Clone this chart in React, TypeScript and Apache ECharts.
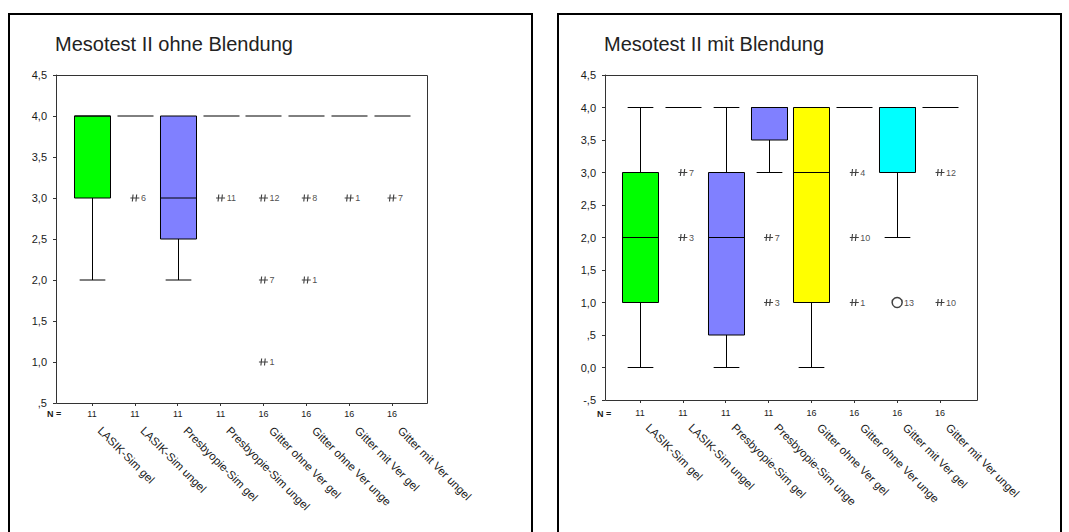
import React, { useEffect, useRef } from "react";
import * as echarts from "echarts";

// Category names along the x axis of each panel
const categoriesOhne = [
  "LASIK-Sim gel",
  "LASIK-Sim ungel",
  "Presbyopie-Sim gel",
  "Presbyopie-Sim ungel",
  "Gitter ohne Ver gel",
  "Gitter ohne Ver unge",
  "Gitter mit Ver gel",
  "Gitter mit Ver ungel",
];
const categoriesMit = [
  "LASIK-Sim gel",
  "LASIK-Sim ungel",
  "Presbyopie-Sim gel",
  "Presbyopie-Sim unge",
  "Gitter ohne Ver gel",
  "Gitter ohne Ver unge",
  "Gitter mit Ver gel",
  "Gitter mit Ver ungel",
];
// Sample sizes (N =) per category
const countsN = ["11", "11", "11", "11", "16", "16", "16", "16"];

// Box statistics per category: [min, Q1, median, Q3, max]
const boxesOhne = [
  [2, 3, 4, 4, 4],
  [4, 4, 4, 4, 4],
  [2, 2.5, 3, 4, 4],
  [4, 4, 4, 4, 4],
  [4, 4, 4, 4, 4],
  [4, 4, 4, 4, 4],
  [4, 4, 4, 4, 4],
  [4, 4, 4, 4, 4],
];
const boxesMit = [
  [0, 1, 2, 3, 4],
  [4, 4, 4, 4, 4],
  [0, 0.5, 2, 3, 4],
  [3, 3.5, 4, 4, 4],
  [0, 1, 3, 4, 4],
  [4, 4, 4, 4, 4],
  [2, 3, 4, 4, 4],
  [4, 4, 4, 4, 4],
];
const fillsOhne = ["#00ff00", "#ffffff", "#8080ff", "#ffffff", "#ffffff", "#ffffff", "#ffffff", "#ffffff"];
const fillsMit = ["#00ff00", "#ffffff", "#8080ff", "#8080ff", "#ffff00", "#ffffff", "#00ffff", "#ffffff"];

// Extreme values: [category index, value, case number]
const extremesOhne = [
  [1, 3, "6"],
  [3, 3, "11"],
  [4, 3, "12"],
  [4, 2, "7"],
  [4, 1, "1"],
  [5, 3, "8"],
  [5, 2, "1"],
  [6, 3, "1"],
  [7, 3, "7"],
];
const extremesMit = [
  [1, 3, "7"],
  [1, 2, "3"],
  [3, 2, "7"],
  [3, 1, "3"],
  [5, 3, "4"],
  [5, 2, "10"],
  [5, 1, "1"],
  [7, 3, "12"],
  [7, 1, "10"],
];
// Outliers (circles): [category index, value, case number]
const outliersOhne: (number | string)[][] = [];
const outliersMit = [[6, 1, "13"]];

const FONT = "'Liberation Sans', Arial, Helvetica, sans-serif";
const INK = "#1a1a1a";
const ASTERISK = "path://M0,4L10,4M3,0L2.2,8M7,0L6.2,8";

const yLabel = (v: number) => {
  if (Math.abs(v) < 1e-9) return "0,0";
  const a = Math.abs(v);
  let s = a.toFixed(1).replace(".", ",");
  if (a < 1) s = s.slice(1);
  return (v < 0 ? "-" : "") + s;
};

type Panel = {
  title: string;
  cats: string[];
  boxes: number[][];
  fills: string[];
  extremes: (number | string)[][];
  outliers: (number | string)[][];
  yMin: number;
  yMax: number;
  frame: { x: number; y: number; w: number; h: number };
  gridLeft: number;
  gridWidth: number;
  titleLeft: number;
  nLeft: number;
  nTop: number;
  nMargin: number;
};

const panels: Panel[] = [
  {
    title: "Mesotest II ohne Blendung",
    cats: categoriesOhne,
    boxes: boxesOhne,
    fills: fillsOhne,
    extremes: extremesOhne,
    outliers: outliersOhne,
    yMin: 0.5,
    yMax: 4.5,
    frame: { x: 56, y: 75, w: 371, h: 328 },
    gridLeft: 70.57,
    gridWidth: 342.86,
    titleLeft: 55,
    nLeft: 47,
    nTop: 409,
    nMargin: 6,
  },
  {
    title: "Mesotest II mit Blendung",
    cats: categoriesMit,
    boxes: boxesMit,
    fills: fillsMit,
    extremes: extremesMit,
    outliers: outliersMit,
    yMin: -0.5,
    yMax: 4.5,
    frame: { x: 605, y: 75, w: 372, h: 325 },
    gridLeft: 618.57,
    gridWidth: 342.86,
    titleLeft: 604,
    nLeft: 597,
    nTop: 409,
    nMargin: 8,
  },
];

function buildOption() {
  const grid: any[] = [];
  const xAxis: any[] = [];
  const yAxis: any[] = [];
  const series: any[] = [];
  const title: any[] = [];
  const graphic: any[] = [];

  panels.forEach((p, i) => {
    grid.push({
      left: p.gridLeft,
      top: p.frame.y,
      width: p.gridWidth,
      height: p.frame.h,
      containLabel: false,
      outerBoundsMode: "none",
    });

    // Category names, rotated below the N row
    xAxis.push({
      gridIndex: i,
      type: "category",
      position: "bottom",
      data: p.cats,
      axisLine: { show: false },
      axisTick: { show: false },
      splitLine: { show: false },
      axisLabel: {
        interval: 0,
        rotate: -45,
        margin: 18,
        padding: [0, 0, 0, 11],
        fontSize: 11.5,
        fontFamily: FONT,
        color: INK,
      },
    });
    // N = row with the sample sizes
    xAxis.push({
      gridIndex: i,
      type: "category",
      position: "bottom",
      data: p.cats,
      axisLine: { show: false },
      axisTick: {
        show: true,
        alignWithLabel: true,
        length: 3,
        lineStyle: { color: "#333", width: 1 },
      },
      splitLine: { show: false },
      axisLabel: {
        interval: 0,
        margin: p.nMargin,
        fontSize: 9,
        fontFamily: FONT,
        color: INK,
        formatter: (_v: string, idx: number) => countsN[idx],
      },
    });

    yAxis.push({
      gridIndex: i,
      type: "value",
      min: p.yMin,
      max: p.yMax,
      interval: 0.5,
      offset: p.gridLeft - p.frame.x,
      axisLine: { show: true, lineStyle: { color: "#333", width: 1 } },
      axisTick: { show: true, length: 3, lineStyle: { color: "#333" } },
      splitLine: { show: false },
      axisLabel: {
        margin: 9,
        fontSize: 11,
        fontFamily: FONT,
        color: INK,
        formatter: yLabel,
      },
    });

    const fills = p.fills;
    series.push({
      type: "custom",
      xAxisIndex: i * 2,
      yAxisIndex: i,
      clip: false,
      encode: { x: 0, y: [1, 2, 3, 4, 5] },
      data: p.boxes.map((b, k) => [k, ...b]),
      renderItem: (params: any, api: any) => {
        const cat = api.value(0);
        const lo = api.value(1);
        const q1 = api.value(2);
        const med = api.value(3);
        const q3 = api.value(4);
        const hi = api.value(5);
        const band = api.size([1, 0])[0];
        const half = band * 0.42;
        const cap = band * 0.3;
        const x = Math.round(api.coord([cat, lo])[0]) + 0.5;
        const y = (v: number) => api.coord([cat, v])[1];
        const line = { stroke: "#000", lineWidth: 1 };
        const children: any[] = [];
        if (lo < q1) {
          children.push({ type: "line", shape: { x1: x, y1: y(q1), x2: x, y2: y(lo) }, style: line });
          children.push({ type: "line", shape: { x1: x - cap, y1: y(lo), x2: x + cap, y2: y(lo) }, style: line });
        }
        if (hi > q3) {
          children.push({ type: "line", shape: { x1: x, y1: y(q3), x2: x, y2: y(hi) }, style: line });
          children.push({ type: "line", shape: { x1: x - cap, y1: y(hi), x2: x + cap, y2: y(hi) }, style: line });
        }
        if (q3 > q1) {
          children.push({
            type: "rect",
            shape: { x: x - half, y: y(q3), width: half * 2, height: y(q1) - y(q3) },
            style: { fill: fills[params.dataIndex], stroke: "#000", lineWidth: 1 },
          });
        }
        children.push({ type: "line", shape: { x1: x - half, y1: y(med), x2: x + half, y2: y(med) }, style: line });
        return { type: "group", children };
      },
      z: 2,
    });

    series.push({
      type: "scatter",
      xAxisIndex: i * 2,
      yAxisIndex: i,
      symbol: ASTERISK,
      symbolSize: [9, 7],
      itemStyle: { color: "transparent", borderColor: "#111", borderWidth: 1 },
      label: {
        show: true,
        position: "right",
        distance: 1,
        fontSize: 9,
        fontFamily: FONT,
        color: INK,
        formatter: (d: any) => d.value[2],
      },
      data: p.extremes,
      z: 3,
    });

    if (p.outliers.length) {
      series.push({
        type: "scatter",
        xAxisIndex: i * 2,
        yAxisIndex: i,
        symbol: "circle",
        symbolSize: 10,
        itemStyle: { color: "#fff", borderColor: "#111", borderWidth: 1.5 },
        label: {
          show: true,
          position: "right",
          distance: 1,
          fontSize: 9,
          fontFamily: FONT,
          color: INK,
          formatter: (d: any) => d.value[2],
        },
        data: p.outliers,
        z: 3,
      });
    }

    title.push({
      text: p.title,
      left: p.titleLeft,
      top: 34,
      padding: 0,
      textStyle: { fontSize: 20, fontWeight: "normal", color: "#222", fontFamily: FONT },
    });

    // Plot frame
    graphic.push({
      type: "rect",
      silent: true,
      shape: { x: p.frame.x + 0.5, y: p.frame.y + 0.5, width: p.frame.w, height: p.frame.h },
      style: { fill: "none", stroke: "#333", lineWidth: 1 },
      z: 1,
    });
    graphic.push({
      type: "text",
      silent: true,
      x: p.nLeft,
      y: p.nTop,
      style: { text: "N =", fontSize: 9, fontWeight: "bold", fontFamily: FONT, fill: INK },
    });
  });

  // Panel borders
  graphic.push({
    type: "rect",
    silent: true,
    shape: { x: 9, y: 14, width: 523, height: 540 },
    style: { fill: "none", stroke: "#000", lineWidth: 2 },
  });
  graphic.push({
    type: "rect",
    silent: true,
    shape: { x: 558, y: 14, width: 503, height: 540 },
    style: { fill: "none", stroke: "#000", lineWidth: 2 },
  });

  return {
    animation: false,
    backgroundColor: "#ffffff",
    title,
    grid,
    xAxis,
    yAxis,
    series,
    graphic,
  };
}

export default function App() {
  const ref = useRef<HTMLDivElement>(null);
  useEffect(() => {
    if (!ref.current) return;
    const chart = echarts.init(ref.current, undefined, { renderer: "svg" });
    chart.setOption(buildOption() as any);
    return () => chart.dispose();
  }, []);
  return (
    <div
      ref={ref}
      style={{ position: "fixed", left: 0, top: 0, width: 1069, height: 532, background: "#fff" }}
    />
  );
}
